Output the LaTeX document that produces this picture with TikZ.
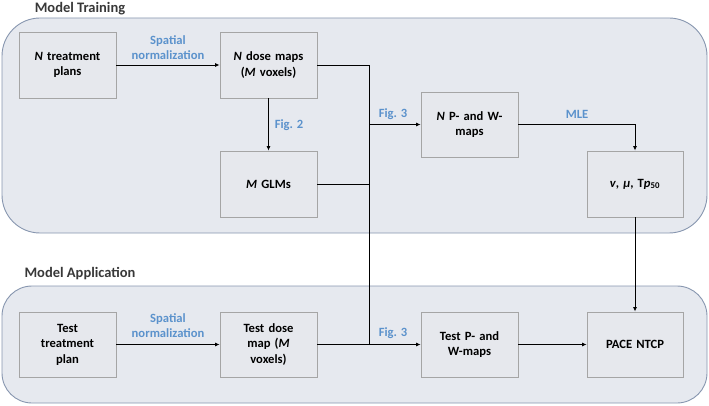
\documentclass[tikz,border=0pt]{standalone}
\usepackage{fontspec}
\setmainfont{Carlito}
\usetikzlibrary{arrows.meta}
\definecolor{panelfill}{RGB}{230,233,239}
\definecolor{paneldraw}{RGB}{135,150,175}
\definecolor{boxdraw}{RGB}{165,165,165}
\definecolor{boxfill}{RGB}{230,232,237}
\definecolor{lblblue}{RGB}{91,146,204}
\tikzset{
  panel/.style={fill=panelfill,draw=paneldraw,line width=0.9pt},
  stepbox/.style={draw=boxdraw,fill=boxfill,line width=0.8pt,minimum width=97pt,minimum height=66pt,
    align=center,text width=85pt,font=\fontsize{12.6}{15.5}\selectfont\bfseries,inner sep=0pt},
  title/.style={font=\fontsize{14.5}{16}\selectfont\bfseries,text=black!78,inner sep=0pt},
  lbl/.style={font=\fontsize{12.6}{15}\selectfont\bfseries,text=lblblue,align=center,inner sep=0pt},
  conn/.style={line width=0.9pt,black},
  arr/.style={conn,-{Latex[length=4.5pt,width=4pt]}}
}
\begin{document}
\begin{tikzpicture}[x=1pt,y=-1pt]
\useasboundingbox (0,0) rectangle (709,406);
% panels
\draw[panel,rounded corners=38pt] (2,18) rectangle (707,233);
\draw[panel,rounded corners=30pt] (2,286) rectangle (707,403);
\node[title] (t1) at (80,9) {Model Training};
\node[title] (t2) at (80,274) {Model Application};
% boxes
\node[stepbox] (tp) at (67.5,65) {\textit{N} treatment\\plans};
\node[stepbox] (dm) at (268.5,65) {\textit{N} dose maps\\(\textit{M} voxels)};
\node[stepbox] (glm) at (268.5,184) {\textit{M} GLMs};
\node[stepbox,minimum height=65pt] (pw) at (469.5,124.5) {\textit{N} P- and W-\\maps};
\node[stepbox,minimum width=96pt] (v) at (635,184) {\textit{v}, \textit{μ}, T\textit{p}\textsubscript{50}};
\node[stepbox,minimum height=65pt] (ttp) at (67.5,344.5) {Test\\treatment\\plan};
\node[stepbox,minimum height=65pt] (tdm) at (268.5,344.5) {Test dose\\map (\textit{M}\\voxels)};
\node[stepbox,minimum height=65pt] (tpw) at (469.5,344.5) {Test P- and\\W-maps};
\node[stepbox,minimum width=96pt,minimum height=65pt] (pace) at (635,344.5) {PACE NTCP};
% junction coordinates
\coordinate (j1) at (369,65);
\coordinate (jg) at (369,184);
\coordinate (j3) at (369,124.5);
\coordinate (j2) at (369,344.5);
% connectors
\draw[arr] (tp) -- (dm);
\draw[arr] (dm) -- (glm);
\draw[conn] (dm.east) -- (j1) -- (j2);
\draw[conn] (glm.east) -- (jg);
\draw[arr] (j3) -- (pw.west);
\draw[arr] (pw.east) -| (v.north);
\draw[arr] (v) -- (pace);
\draw[arr] (ttp) -- (tdm);
\draw[arr] (tdm) -- (tpw);
\draw[arr] (tpw) -- (pace);
% labels
\node[lbl] (l1) at (168,47.5) {Spatial\\normalization};
\node[lbl] (l2) at (289,125) {Fig. 2};
\node[lbl] (l3) at (393,114) {Fig. 3};
\node[lbl] (l4) at (577,114) {MLE};
\node[lbl] (l5) at (168,326) {Spatial\\normalization};
\node[lbl] (l6) at (393,333) {Fig. 3};
\end{tikzpicture}
\end{document}
